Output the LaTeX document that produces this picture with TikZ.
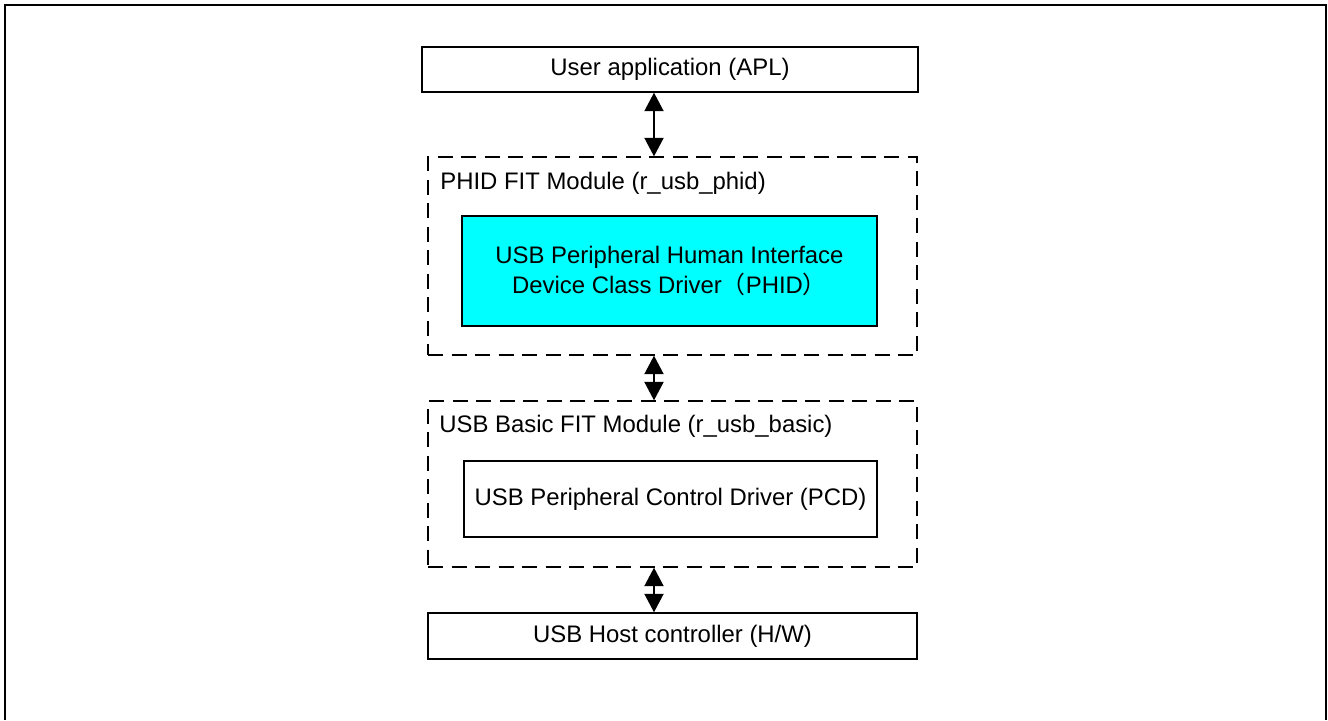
\documentclass[tikz,border=0pt]{standalone}
\usepackage{fontspec}
\setmainfont{Liberation Sans}
\newfontfamily\cjk{Noto Sans CJK SC}
\usepackage{tikz}
\definecolor{phidcyan}{RGB}{0, 255, 255}
\usetikzlibrary{arrows.meta, positioning, calc}

\begin{document}
\begin{tikzpicture}[
    font=\fontsize{13.6pt}{17pt}\selectfont,
    layer/.style={rectangle, draw, line width=0.028cm, minimum width=9.78cm, minimum height=0.92cm, inner sep=0pt, align=center},
    module/.style={rectangle, draw, dashed, dash pattern=on 0.3cm off 0.17cm, line width=0.026cm, minimum width=9.78cm, inner sep=0pt},
    driver/.style={rectangle, draw, line width=0.026cm, inner sep=0pt, align=center},
    biarrow/.style={{Triangle[length=0.37cm, width=0.38cm]}-{Triangle[length=0.37cm, width=0.38cm]}, line width=0.04cm}
]
    % Frame
    \useasboundingbox (0, 0) rectangle (26.56, -14.4);
    \draw[line width=0.04cm] (0.1, -14.4) -- (0.1, -0.1) -- (26.52, -0.1) -- (26.52, -14.4);

    % Layers
    \node[layer, minimum width=9.92cm, minimum height=0.9cm] (apl) at (13.4, -1.39) {User application (APL)};
    \node[module, minimum height=3.96cm] (phidmod) at (13.45, -5.12) {};
    \node[module, minimum height=3.32cm] (basicmod) at (13.45, -9.68) {};
    \node[layer] (host) at (13.45, -12.72) {USB Host controller (H/W)};

    % Module labels
    \node[anchor=west, inner sep=0pt] (phidlabel) at (8.8, -3.66) {PHID FIT Module (r\_usb\_phid)};
    \node[anchor=west, inner sep=0pt] (basiclabel) at (8.78, -8.52) {USB Basic FIT Module (r\_usb\_basic)};

    % Drivers
    \node[driver, fill=phidcyan, minimum width=8.3cm, minimum height=2.2cm] (phid) at (13.39, -5.42)
        {USB Peripheral Human Interface\\Device Class Driver{\cjk （}PHID{\cjk ）}};
    \node[driver, minimum width=8.26cm, minimum height=1.52cm] (pcd) at (13.41, -9.98)
        {USB Peripheral Control Driver (PCD)};

    % Arrows
    \coordinate (axis) at (13.08, 0);
    \draw[biarrow] (apl.south -| axis) -- (phidmod.north -| axis);
    \draw[biarrow] (phidmod.south -| axis) -- (basicmod.north -| axis);
    \draw[biarrow] (basicmod.south -| axis) -- (host.north -| axis);

\end{tikzpicture}
\end{document}
